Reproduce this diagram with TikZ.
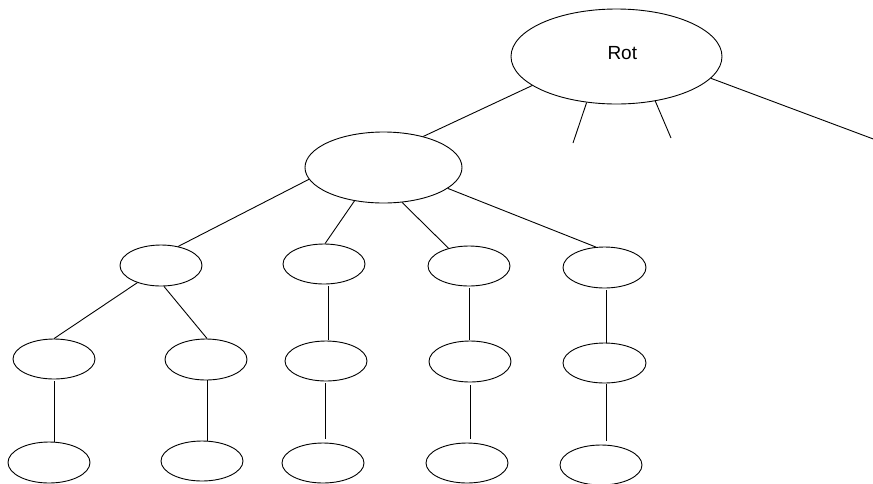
\documentclass[tikz,border=0pt]{standalone}
\usepackage{fontspec}
\setmainfont{Liberation Sans}
\usetikzlibrary{shapes.geometric}
\tikzset{
  el/.style={ellipse, draw, line width=0.9pt, inner sep=0pt, minimum width=82pt, minimum height=40pt},
  edge/.style={draw, line width=0.9pt},
}
\begin{document}
\begin{tikzpicture}[x=1pt,y=-1pt]
\useasboundingbox (0,0) rectangle (873,483);
% root and second level
\node[el, minimum width=211pt, minimum height=95pt] (r) at (616.5,56.5) {};
\node[font=\fontsize{19}{22}\selectfont] (rt) at (622.3,52.7) {Rot};
\node[el, minimum width=157pt, minimum height=71pt] (a) at (383.5,167.5) {};
% third level
\node[el, minimum height=41pt] (b1) at (161,265.5) {};
\node[el] (b2) at (324,264) {};
\node[el] (b3) at (469,266) {};
\node[el, minimum width=83pt, minimum height=41pt] (b4) at (604.5,267.5) {};
% fourth level
\node[el] (c1) at (54,359) {};
\node[el, minimum height=41pt] (c2) at (206,359.5) {};
\node[el] (c3) at (326,361) {};
\node[el, minimum height=41pt] (c4) at (470,361.5) {};
\node[el, minimum width=83pt] (c5) at (604.5,363) {};
% fifth level
\node[el, minimum height=41pt] (d1) at (49,462.5) {};
\node[el] (d2) at (202,461) {};
\node[el] (d3) at (323,463) {};
\node[el] (d4) at (467,463) {};
\node[el] (d5) at (601,465) {};
% free ends
\coordinate (e1) at (573,143);
\coordinate (e2) at (671,138);
\coordinate (e3) at (876,140);
% connectors from root
\path[edge] (r.199.5) -- (a.38.6);
\path[edge] (r.237.3) -- (e1);
\path[edge] (r.311.6) -- (e2);
\path[edge] (r.347.4) -- (e3);
% connectors from second level
\path[edge] (a.189.5) -- (b1.48.9);
\path[edge] (a.229.3) -- (b2.87);
\path[edge] (a.298.2) -- (b3.139.4);
\path[edge] (a.342.1) -- (b4.113.2);
% third to fourth
\path[edge] (b1.216.1) -- (c1.90);
\path[edge] (b1.278) -- (c2.87);
\path[edge, shorten <=2pt, shorten >=1pt] ([xshift=4pt]b2.south) -- ([xshift=2pt]c3.north);
\path[edge, shorten <=2pt, shorten >=1pt] (b3.south) -- ([xshift=-1pt]c4.north);
\path[edge, shorten <=2pt] ([xshift=1.5pt]b4.south) -- ([xshift=1.5pt]c5.north);
% fourth to fifth
\path[edge, shorten <=2pt, shorten >=0pt] (c1.south) -- ([xshift=5pt]d1.north);
\path[edge, shorten <=0pt, shorten >=0pt] ([xshift=1pt]c2.south) -- ([xshift=5pt]d2.north);
\path[edge, shorten <=2pt, shorten >=4pt] ([xshift=-1pt]c3.south) -- ([xshift=2pt]d3.north);
\path[edge, shorten <=3pt, shorten >=4pt] (c4.south) -- ([xshift=3pt]d4.north);
\path[edge, shorten <=1pt, shorten >=4pt] ([xshift=1.5pt]c5.south) -- ([xshift=5pt]d5.north);
\end{tikzpicture}
\end{document}
